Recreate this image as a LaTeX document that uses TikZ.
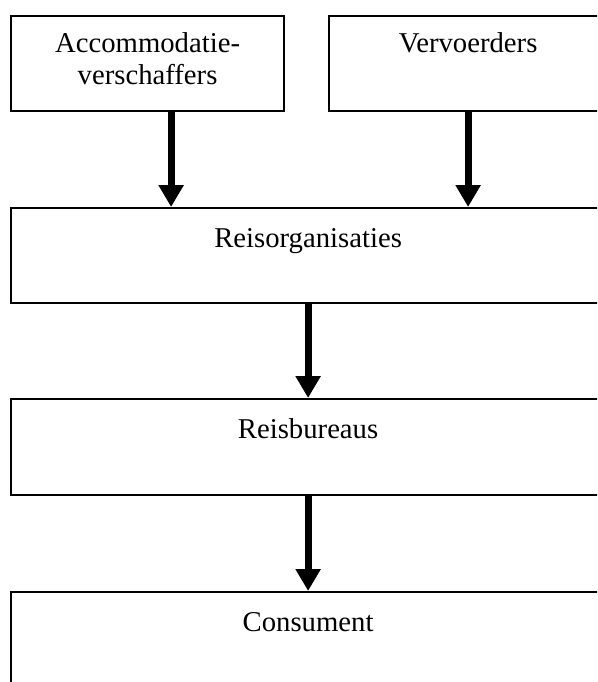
\documentclass[tikz,border=0pt]{standalone}
\usepackage{fontspec}
\setmainfont{Liberation Serif}
\usetikzlibrary{arrows.meta}
\begin{document}
\begin{tikzpicture}[x=1pt,y=-1pt,
  box/.style={draw=black, line width=2.2pt, fill=white, inner sep=0pt, anchor=north west},
  txt/.style={font=\fontsize{28.7}{32}\selectfont, inner sep=0pt, anchor=base},
  arr/.style={line width=7pt, -{Triangle[width=24pt,length=22pt]}}]
\useasboundingbox (0,0) rectangle (597,682);
\clip (0,0) rectangle (597,682);
\fill[white] (0,0) rectangle (597,682);
% boxes
\node[box, minimum width=273pt, minimum height=95pt] (acc) at (10,15) {};
\node[box, minimum width=278pt, minimum height=95pt] (verv) at (328,15) {};
\node[box, minimum width=594pt, minimum height=95pt] (reisorg) at (10,207) {};
\node[box, minimum width=594pt, minimum height=96pt] (reisbur) at (10,398) {};
\node[box, minimum width=594pt, minimum height=120pt] (cons) at (10,591) {};
% texts
\node[txt] (acct1) at ([yshift=-38pt]acc.north) {Accommodatie-};
\node[txt] (acct2) at ([yshift=-70pt]acc.north) {verschaffers};
\node[txt] (vervt) at ([yshift=-38pt]verv.north) {Vervoerders};
\node[txt] (reisorgt) at ([yshift=-40pt]reisorg.north) {Reisorganisaties};
\node[txt] (reisburt) at ([yshift=-40pt]reisbur.north) {Reisbureaus};
\node[txt] (const) at ([yshift=-40pt]cons.north) {Consument};
% connectors
\coordinate (a1) at ([xshift=23.5pt]acc.south);
\draw[arr] (a1) -- (a1 |- reisorg.north);
\draw[arr] (verv.south) -- (verv.south |- reisorg.north);
\draw[arr] (reisorg.south) -- (reisbur.north);
\draw[arr] (reisbur.south) -- (cons.north);
\end{tikzpicture}
\end{document}
